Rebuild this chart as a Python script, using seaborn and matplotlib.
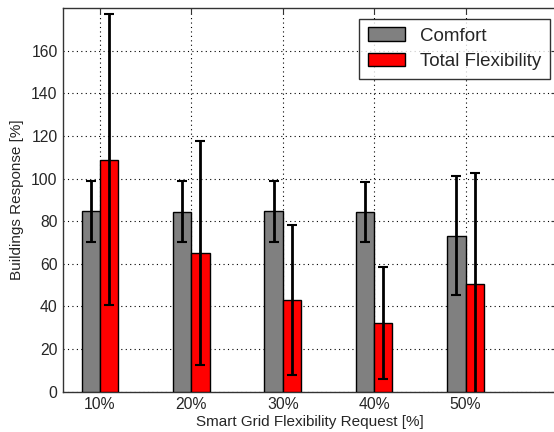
import numpy as np
import pandas as pd
import matplotlib
matplotlib.use('Agg')
import matplotlib.pyplot as plt
import seaborn as sns

requests = ['10%', '20%', '30%', '40%', '50%']
comfort = [84.6, 84.5, 84.6, 84.3, 73.1]
comfort_err = [14.3, 14.3, 14.3, 14.1, 27.9]
flex = [108.8, 65.1, 43.1, 32.2, 50.7]
flex_err = [68.2, 52.7, 35.2, 26.3, 51.7]

sns.set_style('white')
plt.rcParams['font.family'] = ['Liberation Sans', 'DejaVu Sans']

df = pd.DataFrame({
    'request': requests * 2,
    'value': comfort + flex,
    'series': ['Comfort'] * 5 + ['Total Flexibility'] * 5,
})

fig = plt.figure(figsize=(5.54, 4.32), dpi=100)
ax = fig.add_axes([63.3 / 554, (432 - 391.7) / 432, (557 - 63.3) / 554, (391.7 - 8.1) / 432])

sns.barplot(data=df, x='request', y='value', hue='series',
            palette=['#808080', '#ff0000'], width=0.4, errorbar=None,
            edgecolor='black', linewidth=1, saturation=1, ax=ax, zorder=3)

x = np.arange(len(requests))
ax.errorbar(x - 0.1, comfort, yerr=comfort_err, fmt='none', ecolor='black',
            elinewidth=2, capsize=3.5, capthick=1.5, zorder=4)
ax.errorbar(x + 0.1, flex, yerr=flex_err, fmt='none', ecolor='black',
            elinewidth=2, capsize=3.5, capthick=1.5, zorder=4)

ax.set_xlim(-0.4, 5.0)
ax.set_ylim(0, 180)
ax.set_xticks(list(x) + [5])
ax.set_xticklabels(requests + [''])
ax.set_yticks(range(0, 161, 20))
ax.grid(True, color='black', linestyle=(0, (1, 3)), linewidth=0.8)
ax.set_axisbelow(True)
for s in ax.spines.values():
    s.set_color('#333333')
    s.set_linewidth(1)
ax.tick_params(direction='in', top=True, right=True, length=4, labelsize=11.3,
               color='#333333', pad=4)
ax.set_xlabel('Smart Grid Flexibility Request [%]', fontsize=11, labelpad=2)
ax.set_ylabel('Buildings Response [%]', fontsize=11, labelpad=5)

leg = ax.legend(loc='upper right', bbox_to_anchor=(550 / 554, 1 - 19 / 432),
                bbox_transform=fig.transFigure, fontsize=13.5, frameon=True,
                fancybox=False, edgecolor='black', handlelength=2.0,
                handleheight=0.7, handletextpad=0.8, borderpad=0.45,
                labelspacing=0.45, borderaxespad=0)
leg.get_frame().set_linewidth(1)

fig.savefig('out.png', dpi=100)
